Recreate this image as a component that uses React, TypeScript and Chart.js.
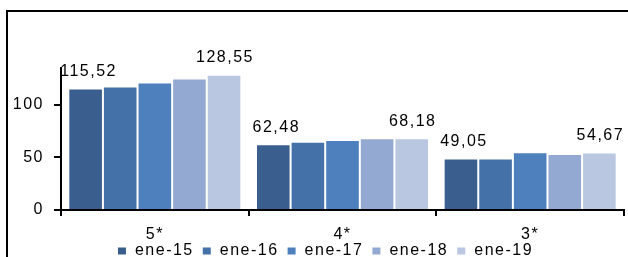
import React, { useEffect, useRef } from "react";
import { Chart, registerables } from "chart.js";

Chart.register(...registerables);

const categories = ["5*", "4*", "3*"];
const seriesNames = ["ene-15", "ene-16", "ene-17", "ene-18", "ene-19"];
const ene15 = [115.52, 62.48, 49.05];
const ene16 = [117.4, 64.9, 49.0];
const ene17 = [121.3, 66.6, 55.0];
const ene18 = [124.9, 68.3, 53.2];
const ene19 = [128.55, 68.18, 54.67];
const seriesValues = [ene15, ene16, ene17, ene18, ene19];
const colors = ["#3A5F8E", "#4471A8", "#4E80BD", "#94A9D1", "#BAC7E1"];
const yTicks = [0, 50, 100];
const yMax = 135;

const FONT = "Liberation Sans, Arial, sans-serif";
const FS = 16;
const SPACING = "1.5px";

const fmt = (v: number) => v.toFixed(2).replace(".", ",");

const framePlugin = {
  id: "frame",
  beforeDraw(chart: any) {
    const ctx = chart.ctx;
    ctx.save();
    ctx.fillStyle = "#ffffff";
    ctx.fillRect(0, 0, chart.width, chart.height);
    ctx.strokeStyle = "#000000";
    ctx.lineWidth = 2;
    ctx.strokeRect(7, 11, chart.width + 20, chart.height + 20);
    ctx.restore();
    ctx.letterSpacing = SPACING;
  },
};

const labelPlugin = {
  id: "endLabels",
  afterDatasetsDraw(chart: any) {
    const ctx = chart.ctx;
    ctx.save();
    ctx.letterSpacing = SPACING;
    ctx.font = `${FS}px ${FONT}`;
    ctx.fillStyle = "#000000";
    ctx.textAlign = "center";
    ctx.textBaseline = "alphabetic";
    const n = chart.data.datasets.length;
    [0, n - 1].forEach((di) => {
      const meta = chart.getDatasetMeta(di);
      meta.data.forEach((bar: any, i: number) => {
        const v = chart.data.datasets[di].data[i] as number;
        ctx.fillText(fmt(v), bar.x + (di === 0 ? 3 : 1), bar.y - 12.5);
      });
    });
    ctx.restore();
  },
};

const legendPlugin = {
  id: "customLegend",
  afterDraw(chart: any) {
    const ctx = chart.ctx;
    ctx.save();
    ctx.letterSpacing = SPACING;
    ctx.font = `${FS}px ${FONT}`;
    ctx.textBaseline = "alphabetic";
    ctx.textAlign = "left";
    const boxW = 8;
    const boxH = 7;
    const gapText = 9;
    const gapItem = 9;
    const items = chart.data.datasets.map((d: any) => ({
      label: d.label,
      color: d.backgroundColor,
      w: boxW + gapText + ctx.measureText(d.label).width,
    }));
    const total =
      items.reduce((s: number, it: any) => s + it.w, 0) + gapItem * (items.length - 1);
    const center = (chart.chartArea.left + chart.chartArea.right) / 2 - 17;
    let x = center - total / 2;
    const baseline = 255;
    items.forEach((it: any) => {
      ctx.fillStyle = it.color;
      ctx.fillRect(x, 247.5, boxW, boxH);
      ctx.fillStyle = "#000000";
      ctx.fillText(it.label, x + boxW + gapText, baseline);
      x += it.w + gapItem;
    });
    ctx.restore();
  },
};

export default function App() {
  const ref = useRef<HTMLCanvasElement | null>(null);

  useEffect(() => {
    if (!ref.current) return;
    const chart = new Chart(ref.current, {
      type: "bar",
      data: {
        labels: categories,
        datasets: seriesNames.map((name, i) => ({
          label: name,
          data: seriesValues[i],
          backgroundColor: colors[i],
          borderColor: "rgba(255,255,255,0.3)",
          borderWidth: 1,
          categoryPercentage: 0.922,
          barPercentage: 1,
        })),
      },
      options: {
        animation: false,
        responsive: false,
        maintainAspectRatio: false,
        layout: { padding: { left: 0, right: 4, top: 68, bottom: 0 } },
        plugins: {
          legend: { display: false },
          tooltip: { enabled: false },
        },
        scales: {
          x: {
            grid: {
              display: true,
              drawOnChartArea: false,
              drawTicks: true,
              tickLength: 6,
              color: "#000000",
              lineWidth: 2,
              offset: true,
            },
            border: { display: true, color: "#000000", width: 2 },
            ticks: {
              color: "#000000",
              font: { family: FONT, size: FS },
              padding: 9,
            },
            afterFit: (scale: any) => {
              scale.height = 47;
            },
          },
          y: {
            min: 0,
            max: yMax,
            grid: {
              display: true,
              drawOnChartArea: false,
              drawTicks: true,
              tickLength: 7,
              color: "#000000",
              lineWidth: 2,
            },
            border: { display: true, color: "#000000", width: 2 },
            ticks: {
              color: "#000000",
              font: { family: FONT, size: FS },
              padding: 10,
              stepSize: 50,
            },
            afterBuildTicks: (scale: any) => {
              scale.ticks = yTicks.map((v) => ({ value: v }));
            },
            afterFit: (scale: any) => {
              scale.width = 61;
            },
          },
        },
      },
      plugins: [framePlugin, labelPlugin, legendPlugin],
    });
    return () => chart.destroy();
  }, []);

  return (
    <div style={{ position: "fixed", left: 0, top: 0, width: 628, height: 257 }}>
      <canvas ref={ref} width={628} height={257} style={{ display: "block" }} />
    </div>
  );
}
